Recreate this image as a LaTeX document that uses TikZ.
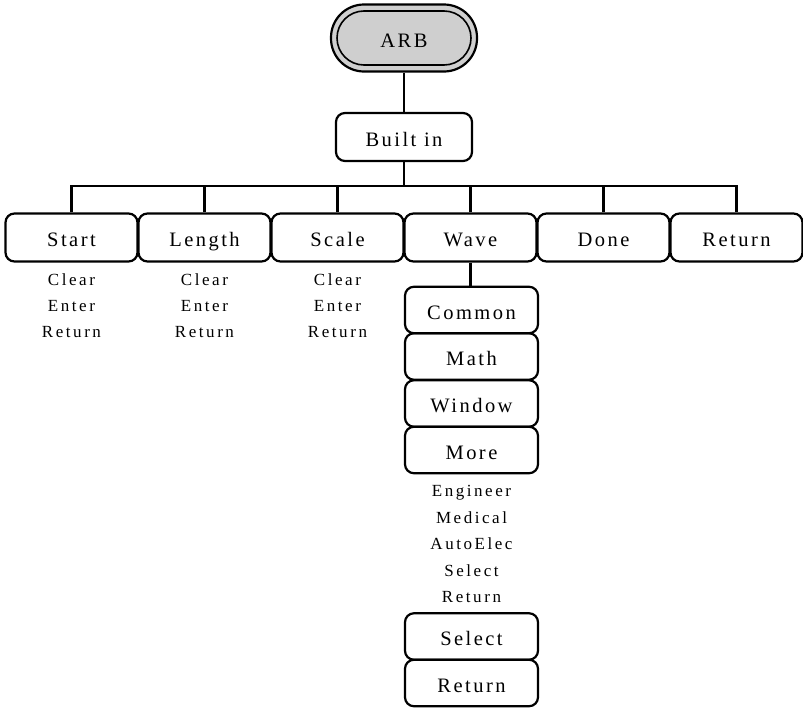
\documentclass[tikz,border=0pt]{standalone}
\usepackage{fontspec}
\setmainfont{Liberation Serif}
\newfontfamily\boxfont[LetterSpace=12]{Liberation Serif}
\newfontfamily\subfont[LetterSpace=15]{Liberation Serif}
\tikzset{
  menubox/.style={draw, line width=2.2pt, rounded corners=9pt, minimum width=132pt, minimum height=48pt, inner sep=0pt, text height=18pt, text depth=0pt, font=\boxfont\fontsize{20.5}{24}\selectfont},
  colbox/.style={menubox, minimum width=133pt, minimum height=46.5pt},
  sublabel/.style={inner sep=0pt, text height=12pt, text depth=4pt, font=\subfont\fontsize{17}{20}\selectfont},
  link/.style={line width=2.4pt},
}
\begin{document}
\begin{tikzpicture}[x=1pt,y=-1pt]
\useasboundingbox (0,0) rectangle (803,707);
% ARB pill
\node[draw, line width=2.2pt, fill=black!19, rounded corners=33pt, minimum width=146pt, minimum height=67pt] (arb) at (404,38) {};
\node[draw, line width=1.6pt, rounded corners=27pt, minimum width=134pt, minimum height=54pt, text height=18pt, text depth=0pt, font=\boxfont\fontsize{20.5}{24}\selectfont] (arbin) at (404,38) {ARB};
\node[menubox, minimum width=136pt] (built) at (404,137) {Built in};
\draw[link] (arb) -- (built);
% row
\node[menubox] (start) at (71.5,237.5) {Start};
\node[menubox] (length) at (204.5,237.5) {Length};
\node[menubox] (scale) at (337.5,237.5) {Scale};
\node[menubox] (wave) at (470.5,237.5) {Wave};
\node[menubox] (done) at (603.5,237.5) {Done};
\node[menubox] (ret) at (736.5,237.5) {Return};
\coordinate (bus) at (404,186);
\draw[link] (built) -- (bus);
\draw[link] (start.north) |- (bus) -| (ret.north);
\draw[link] (length.north) -- (length.north |- bus);
\draw[link] (scale.north) -- (scale.north |- bus);
\draw[link] (wave.north) -- (wave.north |- bus);
\draw[link] (done.north) -- (done.north |- bus);
% sub labels
\foreach \c/\n in {71.5/a,204.5/b,337.5/c}{
  \node[sublabel] (clear\n) at (\c,281) {Clear};
  \node[sublabel] (enter\n) at (\c,307) {Enter};
  \node[sublabel] (return\n) at (\c,333) {Return};
}
% wave column
\node[colbox] (common) at (471.5,310) {Common};
\node[colbox] (math) at (471.5,356.5) {Math};
\node[colbox] (window) at (471.5,403.5) {Window};
\node[colbox] (more) at (471.5,450) {More};
\draw[link] (wave.south) -- (wave.south |- common.north);
\node[sublabel] (eng) at (471.5,492) {Engineer};
\node[sublabel] (med) at (471.5,519) {Medical};
\node[sublabel] (auto) at (471.5,545) {AutoElec};
\node[sublabel] (sel) at (471.5,572) {Select};
\node[sublabel] (retl) at (471.5,598) {Return};
\node[colbox] (selbox) at (471.5,636.5) {Select};
\node[colbox] (retbox) at (471.5,683) {Return};
\end{tikzpicture}
\end{document}
